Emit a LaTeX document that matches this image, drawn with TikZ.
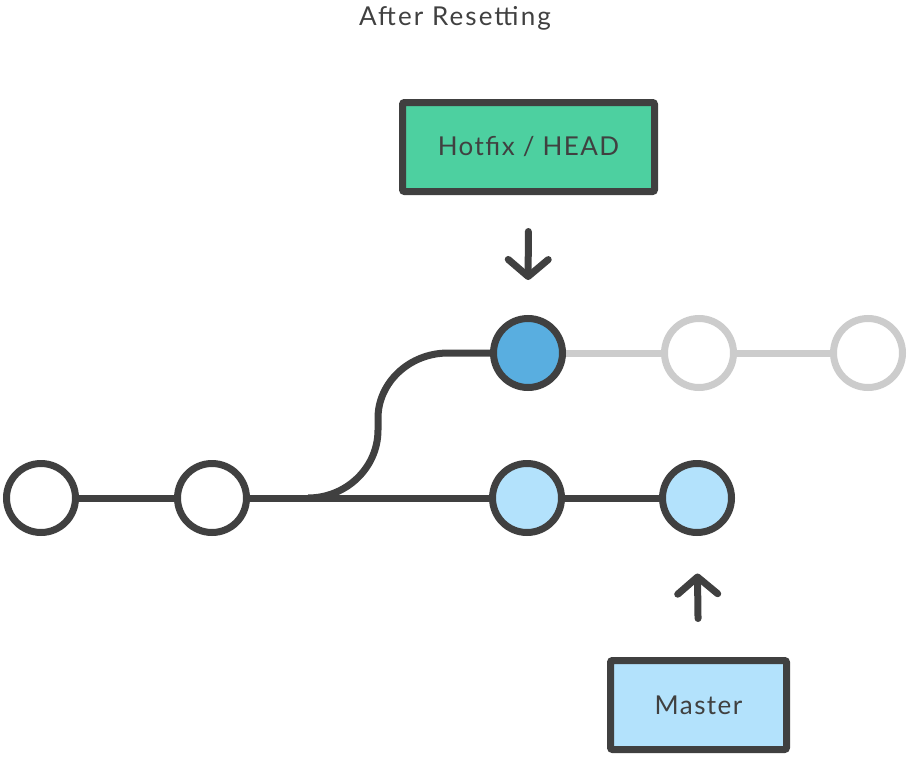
\documentclass[tikz,border=0pt]{standalone}
\usepackage{fontspec}
\setmainfont{Lato}[LetterSpace=5.5]
\newfontfamily\titlefont{Lato}[LetterSpace=8]
\usetikzlibrary{arrows.meta,backgrounds}
\definecolor{ink}{HTML}{404040}
\definecolor{hotgreen}{HTML}{4DD0A0}
\definecolor{darkblue}{HTML}{59AEE0}
\definecolor{lightblue}{HTML}{B3E2FC}
\definecolor{ghost}{HTML}{CCCCCC}
\begin{document}
\begin{tikzpicture}[x=1pt,y=-1pt,
  commit/.style={circle,draw=ink,line width=7pt,minimum size=69pt,inner sep=0pt,fill=white},
  ghostcommit/.style={commit,draw=ghost},
  label box/.style={draw=ink,line width=7pt,rounded corners=2pt,inner sep=0pt,
    font=\fontsize{26}{30}\selectfont,text=ink},
  edge/.style={draw=ink,line width=7pt},
  ghostedge/.style={draw=ghost,line width=7pt},
  pointer/.style={draw=ink,line width=7pt,line cap=round,
    -{Straight Barb[length=17pt,width=40pt,round]}}]
\useasboundingbox (0,0) rectangle (910,760);
\node[font=\titlefont\fontsize{26}{30}\selectfont,text=ink] (title) at (455,18.5) {After Resetting};
\node[commit] (c1) at (41,498) {};
\node[commit] (c2) at (212,498) {};
\node[commit,fill=lightblue] (c3) at (527,498) {};
\node[commit,fill=lightblue] (c4) at (697,498) {};
\node[commit,fill=darkblue] (h5) at (528,353) {};
\node[ghostcommit] (g1) at (699,353) {};
\node[ghostcommit] (g2) at (868,353) {};
\node[label box,fill=hotgreen,minimum width=252pt,minimum height=89pt] (hotfix) at (528.5,147) {\raisebox{-2.5pt}{Hotfix / HEAD}};
\node[label box,fill=lightblue,minimum width=176pt,minimum height=89pt] (master) at (698.5,705) {\raisebox{-2pt}{Master}};
\coordinate (b1) at (308,498);
\coordinate (b2) at (378,430);
\coordinate (b3) at (378,418);
\coordinate (b4) at (448,353);
\begin{scope}[on background layer]
\draw[edge] (c1) -- (c2);
\draw[edge] (c2) -- (c3);
\draw[edge] (c3) -- (c4);
\draw[edge] (b1) .. controls (346,498) and (378,468) .. (b2) -- (b3)
  .. controls (378,383) and (409,353) .. (b4) -- (h5);
\draw[ghostedge] (h5) -- (g1);
\draw[ghostedge] (g1) -- (g2);
\end{scope}
\draw[pointer,shorten <=36.5pt,shorten >=35pt] (hotfix.south) -- (h5.north);
\draw[pointer,shorten <=38.5pt,shorten >=37.5pt] (master.north) -- (c4.south);
\end{tikzpicture}
\end{document}
